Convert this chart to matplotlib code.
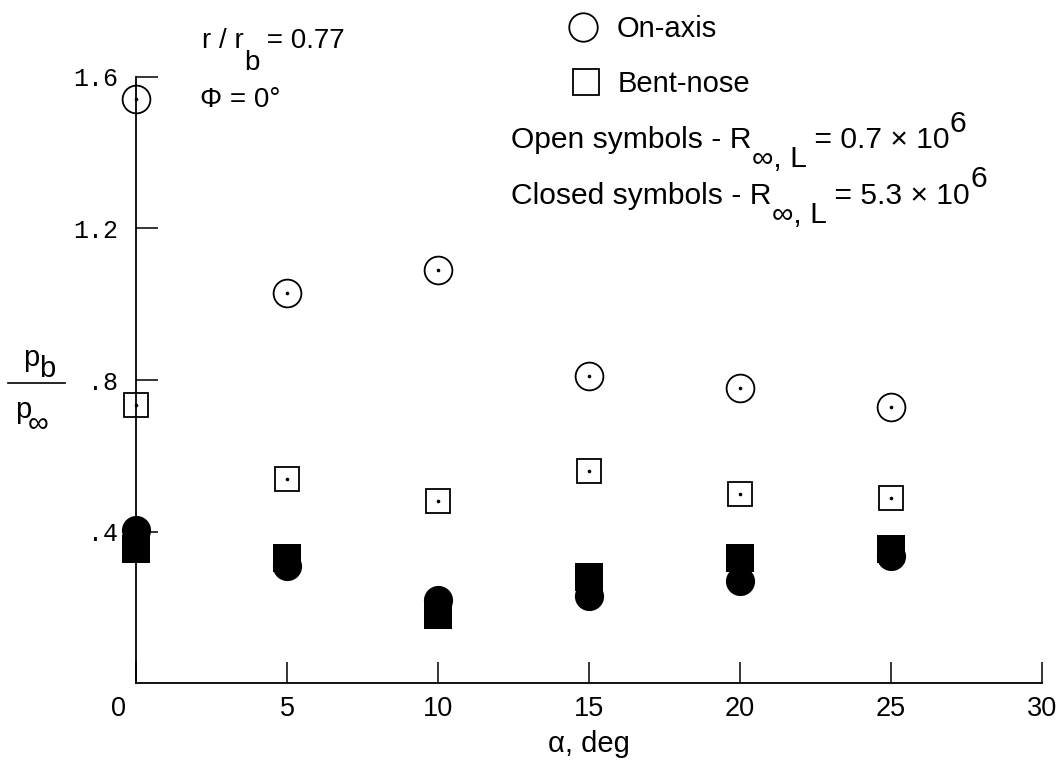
import matplotlib
matplotlib.use("Agg")
import matplotlib.pyplot as plt
from matplotlib.lines import Line2D
from matplotlib.transforms import ScaledTranslation

# Angle of attack (deg) and base-pressure ratio p_b / p_inf
alpha_deg = [0, 5, 10, 15, 20, 25]
on_axis_open = [1.54, 1.03, 1.09, 0.81, 0.78, 0.73]
bent_nose_open = [0.735, 0.54, 0.48, 0.56, 0.50, 0.49]
on_axis_closed = [0.405, 0.31, 0.22, 0.23, 0.27, 0.335]
bent_nose_closed = [0.355, 0.33, 0.18, 0.28, 0.33, 0.355]

x_ticks = [0, 5, 10, 15, 20, 25, 30]
x_tick_labels = ["0", "5", "10", "15", "20", "25", "30"]
y_ticks = [0.4, 0.8, 1.2, 1.6]
y_tick_labels = [".4", ".8", "1.2", "1.6"]

W, H = 1063, 772
SANS = ["Liberation Sans", "DejaVu Sans"]
MONO = ["Liberation Mono", "DejaVu Sans Mono"]
TXT = 21

plt.rcParams["font.family"] = SANS

fig = plt.figure(figsize=(W / 100, H / 100), dpi=100)
ax = fig.add_axes([136 / W, 1 - 683.4 / H, (1042 - 136) / W, (683.4 - 76.7) / H])
ax.set_xlim(0, 30)
ax.set_ylim(0, 1.6)
for side in ("top", "right"):
    ax.spines[side].set_visible(False)
for side in ("left", "bottom"):
    ax.spines[side].set_linewidth(1.3)

ax.set_xticks(x_ticks, x_tick_labels)
ax.set_yticks(y_ticks, y_tick_labels)
ax.tick_params(axis="x", direction="in", length=15, width=1.1, pad=9, labelsize=19.5)
ax.tick_params(axis="y", direction="in", length=16, width=1.1, pad=13, labelsize=18)
for lab in ax.get_yticklabels():
    lab.set_family(MONO)

ax.set_xlabel("α, deg", fontsize=TXT, labelpad=6)

# data symbols
ax.plot(alpha_deg, bent_nose_closed, ls="none", marker="s", ms=19.5, mfc="black",
        mec="black", mew=0, clip_on=False, zorder=3)
ax.plot(alpha_deg, on_axis_closed, ls="none", marker="o", ms=21, mfc="black",
        mec="black", mew=0, clip_on=False, zorder=3)
ax.plot(alpha_deg, on_axis_open, ls="none", marker="o", ms=20, mfc="none",
        mec="black", mew=1.3, clip_on=False, zorder=3)
ax.plot(alpha_deg, bent_nose_open, ls="none", marker="s", ms=17, mfc="none",
        mec="black", mew=1.3, clip_on=False, zorder=3)
# centre dots of the open symbols
ax.plot(alpha_deg, on_axis_open, ls="none", marker="o", ms=1.6, color="black",
        clip_on=False, zorder=4)
ax.plot(alpha_deg, bent_nose_open, ls="none", marker="o", ms=1.6, color="black",
        clip_on=False, zorder=4)


def fx(x):
    return x / W


def fy(y):
    return 1 - y / H


renderer = fig.canvas.get_renderer()


def text_run(x0, pieces, size=TXT):
    """Draw text pieces one after another; each piece has its own baseline."""
    x = x0
    for s, base in pieces:
        t = fig.text(fx(x), fy(base), s, fontsize=size, ha="left", va="baseline")
        x = t.get_window_extent(renderer=renderer).x1


# symbol key
fig.add_artist(Line2D([fx(583)], [fy(27)], transform=fig.transFigure, ls="none",
                      marker="o", ms=20.5, mfc="none", mec="black", mew=1.3))
fig.add_artist(Line2D([fx(586)], [fy(82)], transform=fig.transFigure, ls="none",
                      marker="s", ms=19, mfc="none", mec="black", mew=1.3))
fig.text(fx(617), fy(37), "On-axis", fontsize=TXT, va="baseline")
fig.text(fx(618), fy(92), "Bent-nose", fontsize=TXT, va="baseline")

text_run(511, [("Open symbols - R", 148), ("∞, L", 167),
               (" = 0.7 × 10", 148), ("6", 132)], size=21.6)
text_run(511, [("Closed symbols - R", 204), ("∞, L", 223),
               (" = 5.3 × 10", 204), ("6", 187)], size=21.6)

# test conditions
text_run(202, [("r / r", 48), ("b", 70), (" = 0.77", 48)], size=20)
fig.text(fx(200), fy(107), "Φ = 0°", fontsize=20, va="baseline")

# y-axis label p_b / p_inf
fig.text(fx(23), fy(366), "p", fontsize=TXT, va="baseline")
fig.text(fx(39), fy(377), "b", fontsize=TXT, va="baseline")
fig.add_artist(Line2D([fx(8), fx(65)], [fy(383), fy(383)], transform=fig.transFigure,
                      color="black", lw=1.2))
fig.text(fx(15), fy(418), "p", fontsize=TXT, va="baseline")
fig.text(fx(28), fy(432), "∞", fontsize=TXT, va="baseline")

# move the "0" label clear of the vertical axis
zero = ax.xaxis.get_major_ticks()[0].label1
zero.set_transform(zero.get_transform() + ScaledTranslation(-0.18, 0, fig.dpi_scale_trans))

fig.savefig("out.png", dpi=100)
